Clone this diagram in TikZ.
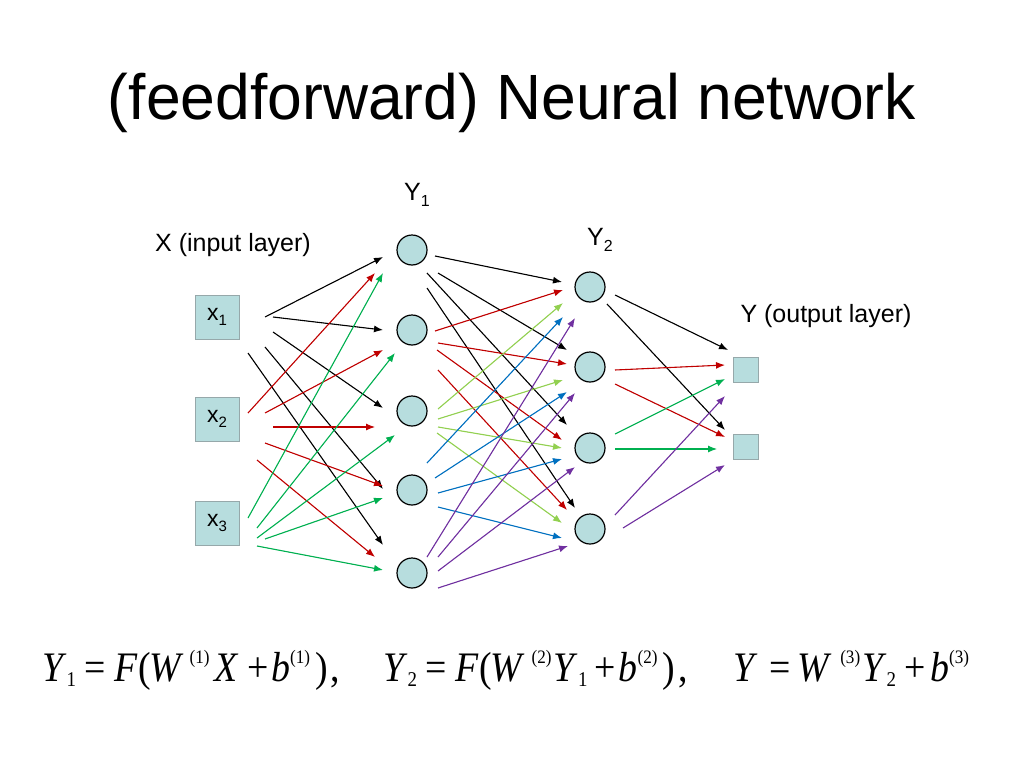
\documentclass[tikz,border=0pt]{standalone}
\usepackage{fontspec}
\setmainfont{Liberation Sans}
\newfontfamily\eqfont[FakeStretch=0.9]{Liberation Serif}
\usetikzlibrary{calc,arrows.meta}
\definecolor{cellfill}{RGB}{183,221,222}
\definecolor{boxline}{RGB}{150,168,170}
\definecolor{redc}{RGB}{192,0,0}
\definecolor{greenc}{RGB}{0,176,80}
\definecolor{lgreenc}{RGB}{146,208,80}
\definecolor{bluec}{RGB}{0,112,192}
\definecolor{purplec}{RGB}{112,48,160}
\newcommand{\xsubs}[1]{\raisebox{-5pt}{\fontsize{15}{15}\selectfont #1}}
\newcommand{\ysubs}[1]{\raisebox{-6pt}{\fontsize{16}{16}\selectfont #1}}
\newcommand{\eqsub}[1]{\raisebox{-5pt}{\fontsize{21}{21}\selectfont #1}}
\newcommand{\eqsup}[1]{\raisebox{18pt}{\fontsize{19}{19}\selectfont #1}}
\newcommand{\hs}[1]{\hspace*{#1pt}}
\newcommand{\arw}[5]{\draw[#1] ($(#2)+(#3)$) -- ($(#4)+(#5)$);}
\begin{document}
\begin{tikzpicture}[x=1pt,y=-1pt,
  inbox/.style={draw=boxline,line width=1pt,fill=cellfill,minimum size=44pt,inner sep=0pt,font=\fontsize{23}{23}\selectfont},
  outbox/.style={draw=boxline,line width=1pt,fill=cellfill,minimum size=25pt,inner sep=0pt},
  neuron/.style={circle,draw=black,line width=1.2pt,fill=cellfill,minimum size=30pt,inner sep=0pt},
  lbl/.style={inner sep=0pt,font=\fontsize{25}{25}\selectfont},
  con/.style={line width=1.1pt,-{Latex[length=9pt,width=7pt]}},
  k/.style={con,draw=black,fill=black},
  r/.style={con,draw=redc,fill=redc},
  g/.style={con,draw=greenc,fill=greenc},
  lg/.style={con,draw=lgreenc,fill=lgreenc},
  b/.style={con,draw=bluec,fill=bluec},
  p/.style={con,draw=purplec,fill=purplec},
  eq/.style={inner sep=0pt,anchor=base west,font=\eqfont\fontsize{42}{42}\selectfont}]
\useasboundingbox (0,0) rectangle (1024,768);
\fill[white] (0,0) rectangle (1024,768);
% title
\node[inner sep=0pt,anchor=base,font=\fontsize{64}{64}\selectfont] (title) at (512,119) {\scalebox{0.975}[1]{(feedforward) Neural network}};
% labels
\node[lbl,anchor=base] (xlab) at (233,251) {X (input layer)};
\node[lbl,anchor=base] (ylab) at (826,322) {Y (output layer)};
\node[lbl,anchor=base west] (y1lab) at (404,200) {Y\ysubs{1}};
\node[lbl,anchor=base west] (y2lab) at (587,245) {Y\ysubs{2}};
% input layer
\node[inbox] (x1) at (217,317) {x\xsubs{1}};
\node[inbox] (x2) at (217,419) {x\xsubs{2}};
\node[inbox] (x3) at (217,523) {x\xsubs{3}};
% hidden layer 1
\node[neuron] (h1) at (412,250) {};
\node[neuron] (h2) at (412,330) {};
\node[neuron] (h3) at (412,411) {};
\node[neuron] (h4) at (412,490) {};
\node[neuron] (h5) at (412,573) {};
% hidden layer 2
\node[neuron] (g1) at (590,287) {};
\node[neuron] (g2) at (590,367) {};
\node[neuron] (g3) at (590,448) {};
\node[neuron] (g4) at (590,529) {};
% output
\node[outbox] (o1) at (746,370) {};
\node[outbox] (o2) at (746,447) {};
% layer 1 connectors
\arw{k}{x1}{48,0}{h1}{-29,7}
\arw{k}{x1}{56,0}{h2}{-29,0}
\arw{k}{x1}{56,15}{h3}{-29,-3}
\arw{k}{x1}{48,30}{h4}{-29,-1}
\arw{k}{x1}{31,36}{h5}{-29,-28}
\arw{r}{x2}{31,-6}{h1}{-37,23}
\arw{r}{x2}{48,-6}{h2}{-29,20}
\arw{r}{x2}{56,8}{h3}{-37,16}
\arw{r}{x2}{48,24}{h4}{-29,-4}
\arw{r}{x2}{40,41}{h5}{-37,-16}
\arw{g}{x3}{31,-5}{h1}{-29,23}
\arw{g}{x3}{40,5}{h2}{-17,23}
\arw{g}{x3}{40,15}{h3}{-17,24}
\arw{g}{x3}{48,16}{h4}{-29,8}
\arw{g}{x3}{40,23}{h5}{-29,-3}
% layer 2 connectors
\arw{k}{h1}{23,6}{g1}{-28,-5}
\arw{k}{h1}{26,23}{g2}{-23,-17}
\arw{k}{h1}{15,23}{g3}{-23,-23}
\arw{k}{h1}{15,38}{g4}{-15,-21}
\arw{r}{h2}{23,1}{g1}{-27,3}
\arw{r}{h2}{26,13}{g2}{-23,-3}
\arw{r}{h2}{25,20}{g3}{-28,-8}
\arw{r}{h2}{26,40}{g4}{-23,-19}
\arw{lg}{h3}{26,-2}{g1}{-27,16}
\arw{lg}{h3}{26,8}{g2}{-27,13}
\arw{lg}{h3}{26,16}{g3}{-28,0}
\arw{lg}{h3}{25,22}{g4}{-28,-6}
\arw{b}{h4}{15,-27}{g1}{-27,30}
\arw{b}{h4}{23,-12}{g2}{-23,25}
\arw{b}{h4}{26,3}{g3}{-28,11}
\arw{b}{h4}{26,17}{g4}{-28,9}
\arw{p}{h5}{15,-16}{g1}{-15,31}
\arw{p}{h5}{26,-16}{g2}{-15,26}
\arw{p}{h5}{26,-2}{g3}{-15,19}
\arw{p}{h5}{26,15}{g4}{-22,17}
% layer 3 connectors
\arw{k}{g1}{25,8}{o1}{-18,-20}
\arw{k}{g1}{17,17}{o2}{-21,-17}
\arw{r}{g2}{25,3}{o1}{-21,-5}
\arw{r}{g2}{25,17}{o2}{-21,-10}
\arw{g}{g3}{25,-14}{o1}{-21,9}
\arw{g}{g3}{25,1}{o2}{-29,2}
\arw{p}{g4}{25,-14}{o1}{-21,26}
\arw{p}{g4}{33,-1}{o2}{-21,18}
% equations
\node[eq] (eq1) at (42,681) {\textit{Y}\eqsub{1}\hs{8}=\hs{9}\textit{F}\hs{1}(\hs{-2}\textit{W}\hs{6}\eqsup{(1)}\hs{5}\textit{X}\hs{9}+\hs{2}\textit{b}\hs{0}\eqsup{(1)}\hs{5})\hs{3},};
\node[eq] (eq2) at (383,681) {\textit{Y}\eqsub{2}\hs{8}=\hs{9}\textit{F}\hs{1}(\hs{-2}\textit{W}\hs{7}\eqsup{(2)}\hs{2}\textit{Y}\eqsub{1}\hs{7}+\hs{3}\textit{b}\hs{0}\eqsup{(2)}\hs{5})\hs{3},};
\node[eq] (eq3) at (733,681) {\textit{Y}\hs{12}=\hs{7}\textit{W}\hs{8}\eqsup{(3)}\hs{2}\textit{Y}\eqsub{2}\hs{8}+\hs{5}\textit{b}\hs{0}\eqsup{(3)}};
\end{tikzpicture}
\end{document}
